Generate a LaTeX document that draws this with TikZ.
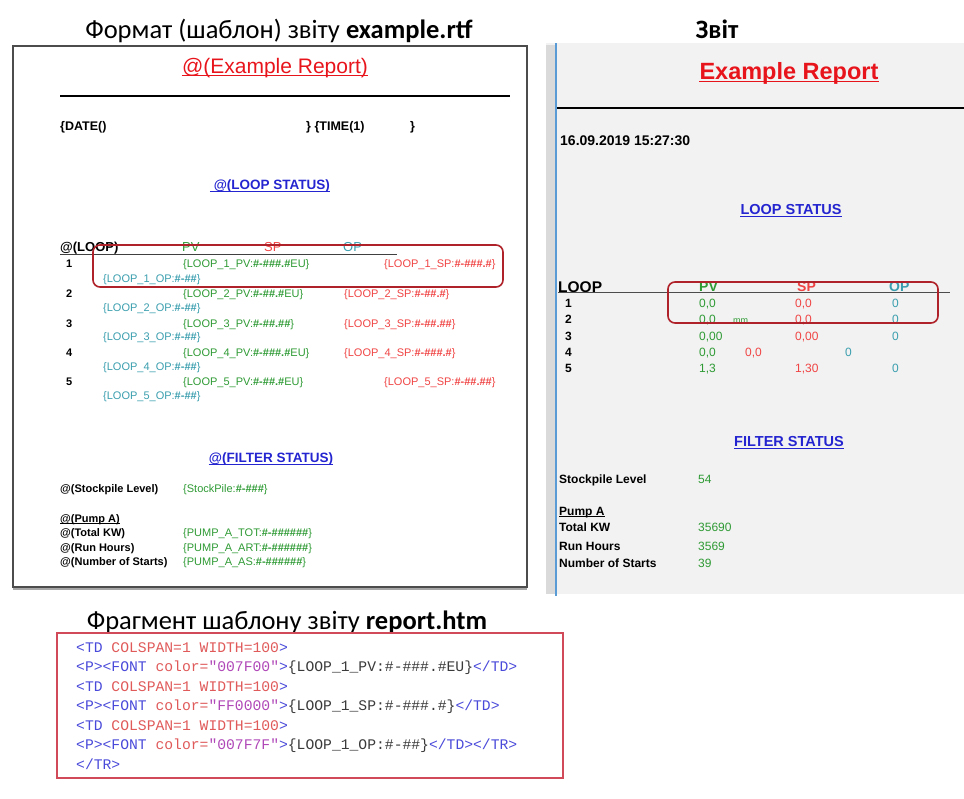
\documentclass[tikz,border=0pt]{standalone}
\usepackage{fontspec}
\setmainfont{Liberation Sans}
\newfontfamily\calfont{Carlito}
\newfontfamily\codefont{Liberation Mono}
\newcommand\fsz[1]{\fontsize{#1}{#1}\selectfont}
\newcommand\hs[1]{\textbf{#1}}

\definecolor{tgreen}{HTML}{2E9A34}
\definecolor{tred}{HTML}{F04444}
\definecolor{tteal}{HTML}{3A9EAE}
\definecolor{tblue}{HTML}{2424D0}
\definecolor{tlink}{HTML}{E8141C}
\definecolor{hilite}{HTML}{B0222A}
\definecolor{panel}{HTML}{F2F2F2}
\definecolor{strip}{HTML}{DADADA}
\definecolor{rule}{HTML}{5B9BD5}
\definecolor{tagc}{HTML}{4A4ADA}
\definecolor{attc}{HTML}{E05A5A}
\definecolor{strc}{HTML}{B048B8}
\definecolor{txtc}{HTML}{3A3A3A}
\definecolor{codebox}{HTML}{D04A5A}

\begin{document}
\begin{tikzpicture}[x=1pt,y=-1pt,
  lbl/.style={inner sep=0pt, anchor=base west},
  mid/.style={inner sep=0pt, anchor=base},
  body/.style={lbl, font=\fsz{11}},
  bbody/.style={lbl, font=\bfseries\fsz{11}},
  rbody/.style={lbl, font=\fsz{12}},
  rbold/.style={lbl, font=\bfseries\fsz{12}},
  heading/.style={mid, font=\calfont\fsz{26.5}},
  hilitebox/.style={draw=hilite, line width=1.6pt, rounded corners=7pt},
  codeline/.style={lbl, font=\codefont\fsz{14.7}},
  ulrule/.style={line width=1pt}
]
\useasboundingbox (0,0) rectangle (964,798);

% ---------- left: the rtf template ----------
\node[heading] (ttl1) at (279,38) {Формат (шаблон) звіту \textbf{example.rtf}};
\draw[draw=black!70, line width=1.5pt] (13,46) rectangle (527,587);
\draw[draw=black!35, line width=1.5pt] (13,589) -- (527,589);

\node[mid, tlink, font=\fsz{21}] (tRep) at (275,73) {@(Example Report)};
\draw[ulrule, tlink] ([yshift=-2pt]tRep.base west) -- ([yshift=-2pt]tRep.base east);
\draw[line width=2pt] (60,96) -- (510,96);

\node[bbody, font=\bfseries\fsz{12.5}] (tDate) at (60,130) {\{DATE()};
\node[bbody, font=\bfseries\fsz{12.5}] (tTime) at (306,130) {\} \{TIME(1)};
\node[bbody, font=\bfseries\fsz{12.5}] (tTimeEnd) at (410,130) {\}};

\node[mid, tblue, font=\bfseries\fsz{13.5}] (tLoopSt) at (270,189) {\ @(LOOP STATUS)};
\draw[ulrule, tblue] ([yshift=-2pt]tLoopSt.base west) -- ([yshift=-2pt]tLoopSt.base east);

% header row
\node[bbody, font=\bfseries\fsz{13}] (tLoop) at (60,251) {@(LOOP)};
\node[body, tgreen, font=\fsz{13}] (tPV) at (182,251) {PV};
\node[body, tred, font=\fsz{13}] (tSP) at (264,251) {SP};
\node[body, tteal, font=\fsz{13}] (tOP) at (343,251) {OP};
\coordinate (hdrA) at (60,254);
\coordinate (hdrB) at (397,254);
\draw[line width=1pt, black!75] (hdrA) -- (hdrB);

% loop rows
\node[bbody] (tN1) at (66,267) {1};
\node[body, tgreen] (tPV1) at (183,267) {\{LOOP\_1\_PV:\hs{\#-\#\#\#.\#}EU\}};
\node[body, tred] (tSP1) at (384,267) {\{LOOP\_1\_SP:\hs{\#-\#\#\#.\#}\}};
\node[body, tteal] (tOP1) at (103,282) {\{LOOP\_1\_OP:\hs{\#-\#\#}\}};

\node[bbody] (tN2) at (66,297) {2};
\node[body, tgreen] (tPV2) at (183,297) {\{LOOP\_2\_PV:\hs{\#-\#\#.\#}EU\}};
\node[body, tred] (tSP2) at (344,297) {\{LOOP\_2\_SP:\hs{\#-\#\#.\#}\}};
\node[body, tteal] (tOP2) at (103,311) {\{LOOP\_2\_OP:\hs{\#-\#\#}\}};

\node[bbody] (tN3) at (66,327) {3};
\node[body, tgreen] (tPV3) at (183,327) {\{LOOP\_3\_PV:\hs{\#-\#\#.\#\#}\}};
\node[body, tred] (tSP3) at (344,327) {\{LOOP\_3\_SP:\hs{\#-\#\#.\#\#}\}};
\node[body, tteal] (tOP3) at (103,340) {\{LOOP\_3\_OP:\hs{\#-\#\#}\}};

\node[bbody] (tN4) at (66,356) {4};
\node[body, tgreen] (tPV4) at (183,356) {\{LOOP\_4\_PV:\hs{\#-\#\#\#.\#}EU\}};
\node[body, tred] (tSP4) at (344,356) {\{LOOP\_4\_SP:\hs{\#-\#\#\#.\#}\}};
\node[body, tteal] (tOP4) at (103,370) {\{LOOP\_4\_OP:\hs{\#-\#\#}\}};

\node[bbody] (tN5) at (66,385) {5};
\node[body, tgreen] (tPV5) at (183,385) {\{LOOP\_5\_PV:\hs{\#-\#\#.\#}EU\}};
\node[body, tred] (tSP5) at (384,385) {\{LOOP\_5\_SP:\hs{\#-\#\#.\#\#}\}};
\node[body, tteal] (tOP5) at (103,399) {\{LOOP\_5\_OP:\hs{\#-\#\#}\}};

\draw[hilitebox] (93,245) rectangle (503,287);

% filter section
\node[mid, tblue, font=\bfseries\fsz{13.5}] (tFilt) at (271,462) {@(FILTER STATUS)};
\draw[ulrule, tblue] ([yshift=-2pt]tFilt.base west) -- ([yshift=-2pt]tFilt.base east);

\node[bbody] (tStock) at (60,492) {@(Stockpile Level)};
\node[body, tgreen] (tStockV) at (183,492) {\{StockPile:\hs{\#-\#\#\#}\}};
\node[bbody] (tPump) at (60,522) {@(Pump A)};
\draw[line width=0.6pt] ([yshift=-1.5pt]tPump.base west) -- ([yshift=-1.5pt]tPump.base east);
\node[bbody] (tTot) at (60,536) {@(Total KW)};
\node[body, tgreen] (tTotV) at (183,536) {\{PUMP\_A\_TOT:\hs{\#-\#\#\#\#\#\#}\}};
\node[bbody] (tRun) at (60,551) {@(Run Hours)};
\node[body, tgreen] (tRunV) at (183,551) {\{PUMP\_A\_ART:\hs{\#-\#\#\#\#\#\#}\}};
\node[bbody] (tNum) at (60,565) {@(Number of Starts)};
\node[body, tgreen] (tNumV) at (183,565) {\{PUMP\_A\_AS:\hs{\#-\#\#\#\#\#\#}\}};

% ---------- right: the generated report ----------
\node[heading] (ttl2) at (717,38) {\textbf{Звіт}};
\fill[panel] (546,43) rectangle (964,594);
\fill[strip] (546,45) rectangle (555,594);
\draw[rule, line width=1.5pt] (556,43) -- (556,596);

\node[mid, tlink, font=\bfseries\fsz{23.5}] (rRep) at (789,79) {Example Report};
\draw[ulrule, tlink, line width=1.4pt] ([yshift=-2.5pt]rRep.base west) -- ([yshift=-2.5pt]rRep.base east);
\draw[line width=2pt] (557,108) -- (964,108);

\node[rbold, font=\bfseries\fsz{14}] (rDate) at (560,145) {16.09.2019 15:27:30};

\node[mid, tblue, font=\bfseries\fsz{14.5}] (rLoopSt) at (791,214) {LOOP STATUS\ };
\draw[ulrule, tblue] ([yshift=-2pt]rLoopSt.base west) -- ([yshift=-2pt]rLoopSt.base east);

\node[rbold, font=\bfseries\fsz{15.5}] (rLoop) at (558,292) {LOOP};
\node[rbold, tgreen, font=\bfseries\fsz{14}] (rPV) at (699,291) {PV};
\node[rbold, tred, font=\bfseries\fsz{14}] (rSP) at (797,291) {SP};
\node[rbold, tteal, font=\bfseries\fsz{14}] (rOP) at (889,291) {OP};
\coordinate (rHdrEnd) at (950,292);
\draw[line width=1pt, black!70] (rLoop.base west) -- (rHdrEnd);

\node[rbold] (rN1) at (565,307) {1};
\node[rbody, tgreen] (rPV1) at (699,307) {0,0};
\node[rbody, tred] (rSP1) at (795,307) {0,0};
\node[rbody, tteal] (rOP1) at (892,307) {0};

\node[rbold] (rN2) at (565,323) {2};
\node[rbody, tgreen] (rPV2) at (699,323) {0,0};
\node[rbody, tgreen, font=\fsz{9}] (rEU2) at (733,323) {mm};
\node[rbody, tred] (rSP2) at (795,323) {0,0};
\node[rbody, tteal] (rOP2) at (892,323) {0};

\node[rbold] (rN3) at (565,340) {3};
\node[rbody, tgreen] (rPV3) at (699,340) {0,00};
\node[rbody, tred] (rSP3) at (795,340) {0,00};
\node[rbody, tteal] (rOP3) at (892,340) {0};

\node[rbold] (rN4) at (565,356) {4};
\node[rbody, tgreen] (rPV4) at (699,356) {0,0};
\node[rbody, tred] (rSP4) at (745,356) {0,0};
\node[rbody, tteal] (rOP4) at (845,356) {0};

\node[rbold] (rN5) at (565,372) {5};
\node[rbody, tgreen] (rPV5) at (699,372) {1,3};
\node[rbody, tred] (rSP5) at (795,372) {1,30};
\node[rbody, tteal] (rOP5) at (892,372) {0};

\draw[hilitebox] (668,282) rectangle (938,323);

\node[mid, tblue, font=\bfseries\fsz{14.5}] (rFilt) at (789,446) {FILTER STATUS\ };
\draw[ulrule, tblue] ([yshift=-2pt]rFilt.base west) -- ([yshift=-2pt]rFilt.base east);

\node[rbold] (rStock) at (559,483) {Stockpile Level};
\node[rbody, tgreen] (rStockV) at (698,483) {54};
\node[rbold] (rPump) at (559,515) {Pump A};
\draw[line width=0.6pt] ([yshift=-1.5pt]rPump.base west) -- ([yshift=-1.5pt]rPump.base east);
\node[rbold] (rTot) at (559,531) {Total KW};
\node[rbody, tgreen] (rTotV) at (698,531) {35690};
\node[rbold] (rRun) at (559,550) {Run Hours};
\node[rbody, tgreen] (rRunV) at (698,550) {3569};
\node[rbold] (rNum) at (559,567) {Number of Starts};
\node[rbody, tgreen] (rNumV) at (698,567) {39};

% ---------- bottom: html template fragment ----------
\node[heading] (ttl3) at (287,629) {Фрагмент шаблону звіту \textbf{report.htm}};
\draw[codebox, line width=1.3pt] (57,633) rectangle (563,778);

\node[codeline] (c1) at (76,652) {\color{tagc}<TD \color{attc}COLSPAN=1 WIDTH=100\color{tagc}>};
\node[codeline] (c2) at (76,671.5) {\color{tagc}<P><FONT \color{attc}color=\color{strc}"007F00"\color{tagc}>\color{txtc}\{LOOP\_1\_PV:\#-\#\#\#.\#EU\}\color{tagc}</TD>};
\node[codeline] (c3) at (76,691) {\color{tagc}<TD \color{attc}COLSPAN=1 WIDTH=100\color{tagc}>};
\node[codeline] (c4) at (76,710.5) {\color{tagc}<P><FONT \color{attc}color=\color{strc}"FF0000"\color{tagc}>\color{txtc}\{LOOP\_1\_SP:\#-\#\#\#.\#\}\color{tagc}</TD>};
\node[codeline] (c5) at (76,730) {\color{tagc}<TD \color{attc}COLSPAN=1 WIDTH=100\color{tagc}>};
\node[codeline] (c6) at (76,749.5) {\color{tagc}<P><FONT \color{attc}color=\color{strc}"007F7F"\color{tagc}>\color{txtc}\{LOOP\_1\_OP:\#-\#\#\}\color{tagc}</TD></TR>};
\node[codeline] (c7) at (76,769) {\color{tagc}</TR>};
\end{tikzpicture}
\end{document}
